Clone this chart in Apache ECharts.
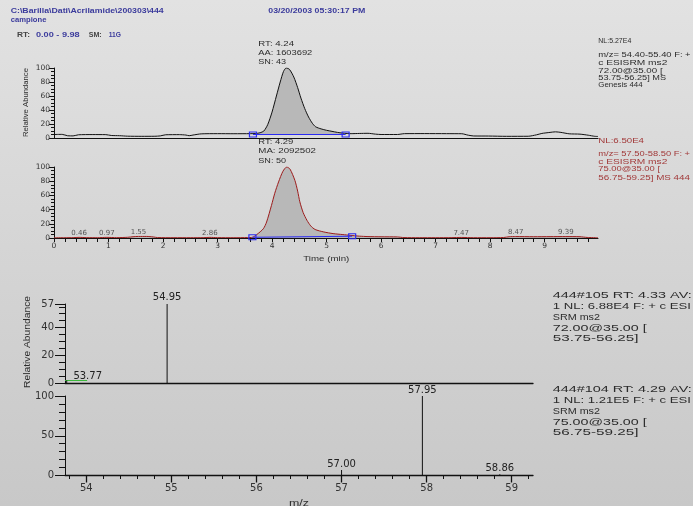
<!DOCTYPE html>
<html><head><meta charset="utf-8">
<script src="https://cdn.jsdelivr.net/npm/echarts@6/dist/echarts.min.js"></script>
<style>
html,body{margin:0;padding:0;}
body{background:linear-gradient(to bottom,#e2e2e2 0%,#d6d6d6 45%,#c8c8c8 100%);}
#c{width:693px;height:506px;}
</style>
</head><body><div id="c"></div>
<script>
// ---------- DATA ----------
// Chromatogram A (m/z 54.40-55.40), [time min, relative abundance]
const traceA = [[0.00,5.0],[0.15,5.2],[0.25,3.2],[0.35,3.0],[0.45,4.6],[0.70,4.9],[0.95,4.8],[1.05,3.6],[1.20,3.3],[1.35,2.6],[1.60,2.4],[1.85,2.5],[1.95,3.0],[2.05,4.6],[2.30,4.8],[2.42,4.2],[2.48,3.3],[2.55,4.2],[2.70,5.9],[3.00,6.2],[3.30,6.1],[3.60,6.2],[3.70,6.4],[3.78,7.5],[3.85,10],[3.92,19],[4.00,37],[4.08,60],[4.15,80],[4.21,95],[4.26,100],[4.32,98],[4.40,87],[4.47,72],[4.53,57],[4.60,42],[4.67,30],[4.74,21],[4.80,16],[4.90,13],[5.00,11],[5.10,9.5],[5.20,8],[5.33,6.7],[5.45,6.2],[5.60,6.5],[5.76,6.7],[5.90,5.5],[6.00,5.0],[6.30,5.0],[6.43,6.2],[6.80,6.3],[7.20,6.2],[7.48,6.1],[7.60,4.0],[7.70,2.9],[7.97,2.8],[8.30,2.4],[8.70,2.5],[8.85,4.5],[8.95,6.5],[9.10,8.0],[9.20,8.8],[9.30,8.0],[9.45,6.0],[9.65,5.5],[9.80,4.0],[9.92,2.4],[9.98,2.2]];
const baselineA = [[3.65,5.0],[5.35,5.0]];
// Chromatogram B (m/z 57.50-58.50)
const traceB = [[0.00,0.3],[0.20,0.4],[0.35,0.5],[0.46,0.9],[0.60,0.5],[0.80,0.4],[0.97,0.9],[1.15,0.5],[1.35,1.0],[1.45,1.8],[1.55,2.2],[1.70,2.2],[1.82,1.5],[1.90,0.6],[2.20,0.4],[2.50,0.4],[2.75,0.5],[2.86,0.9],[3.00,0.5],[3.30,0.4],[3.55,0.6],[3.64,1.0],[3.72,4.8],[3.84,13],[3.90,22.5],[3.99,46],[4.05,63],[4.12,79],[4.20,94],[4.27,100],[4.33,97],[4.42,81],[4.47,66],[4.51,51],[4.57,36],[4.64,25],[4.71,17],[4.79,12],[4.95,8.5],[5.12,6.2],[5.30,4.8],[5.43,3.8],[5.60,2.6],[5.76,2.0],[6.00,1.7],[6.30,1.5],[6.42,0.6],[6.70,0.4],[7.00,0.4],[7.30,0.5],[7.47,0.8],[7.70,0.4],[8.00,0.4],[8.25,0.7],[8.35,1.8],[8.47,2.0],[8.80,1.8],[9.10,1.9],[9.39,2.0],[9.65,1.8],[9.78,0.8],[9.98,0.3]];
const baselineB = [[3.64,1.0],[5.47,2.5]];
const smallPeaksB = [0.46,0.97,1.55,2.86,7.47,8.47,9.39];
// Spectra [m/z, relative abundance]
const spec105 = [[53.77,1.8],[54.95,57]];
const green105 = [[53.75,1.8],[54.01,1.8]];
const spec104 = [[57.00,7],[57.95,100],[58.86,1.5]];
// Ticks
const timeMajorTicks = [0,1,2,3,4,5,6,7,8,9];
const timeMinorTicks = []; for (let i=0;i<=49;i++) timeMinorTicks.push(+(i*0.2).toFixed(1));
const mzMajorTicks = [54,55,56,57,58,59];
const mzMinorTicks = []; for (let i=0;i<=27;i++) mzMinorTicks.push(+(53.8+i*0.2).toFixed(1));

// ---------- HELPERS ----------
const AXF = '"DejaVu Sans", sans-serif';
const TXF = '"Liberation Sans", Arial, sans-serif';
const DARK = '#2c2c2c', BLUE = '#3b3b9c', RED = '#a23a3a', LINEBLUE = '#2a2af2', FILL = '#b8b8b8';
const mctx = document.createElement('canvas').getContext('2d');
function T(text, x, y, w, size, color, bold, rot) {
  const font = (bold ? 'bold ' : '') + size + 'px ' + TXF;
  mctx.font = font;
  const mw = mctx.measureText(text).width;
  return {type:'text', x:x, y:y, rotation: rot || 0, scaleX: w / mw, silent:true, z:10,
    style:{text:text, font:font, fill:color, textAlign: rot ? 'center' : 'left', textVerticalAlign:'middle', verticalAlign:'middle'}};
}
function interp(tr, t) {
  for (let i=1;i<tr.length;i++) if (tr[i][0] >= t) {
    const a=tr[i-1], b=tr[i]; return a[1] + (b[1]-a[1])*(t-a[0])/(b[0]-a[0]);
  }
  return tr[tr.length-1][1];
}
const G = [
  T('C:\\Barilla\\Dati\\Acrilamide\\200303\\444', 10.7, 11.3, 153, 6.5, BLUE, true),
  T('campione', 10.7, 20, 35.7, 6.5, BLUE, true),
  T('03/20/2003 05:30:17 PM', 268.3, 11.3, 97, 6.5, BLUE, true),
  T('RT:', 17, 35, 13, 7, '#444', true),
  T('0.00 - 9.98', 36, 35, 43.7, 7, BLUE, true),
  T('SM:', 88.7, 35, 13, 7, '#444', true),
  T('11G', 108.7, 35, 12.3, 7, BLUE, true),
  T('RT: 4.24', 258.3, 44.5, 35.7, 6.5, DARK),
  T('AA: 1603692', 258.3, 53.7, 54, 6.5, DARK),
  T('SN: 43', 258.3, 62.3, 27.7, 6.5, DARK),
  T('RT: 4.29', 258.3, 142.3, 35, 6.5, DARK),
  T('MA: 2092502', 258.3, 151.7, 57.7, 6.5, DARK),
  T('SN: 50', 258.3, 161, 27.7, 6.5, DARK),
  T('NL:5.27E4', 598.3, 41.7, 33, 6.5, DARK),
  T('m/z= 54.40-55.40 F: +', 598.3, 55.7, 92.3, 6.5, DARK),
  T('c ESISRM ms2', 598.3, 63.7, 69, 6.5, DARK),
  T('72.00@35.00 [', 598.3, 71, 64.3, 6.5, DARK),
  T('53.75-56.25] MS', 598.3, 78.3, 67.7, 6.5, DARK),
  T('Genesis 444', 598.3, 85.3, 44.3, 6.5, DARK),
  T('NL:6.50E4', 598.3, 141.7, 45.7, 6.5, RED),
  T('m/z= 57.50-58.50 F: +', 598.3, 154, 91.7, 6.5, RED),
  T('c ESISRM ms2', 598.3, 162, 69, 6.5, RED),
  T('75.00@35.00 [', 598.3, 169.7, 61.7, 6.5, RED),
  T('56.75-59.25] MS 444', 598.3, 178, 91.7, 6.5, RED),
  T('444#105 RT: 4.33 AV:', 552.7, 296, 139, 9, DARK),
  T('1 NL: 6.88E4 F: + c ESI', 552.7, 306.7, 138.3, 9, DARK),
  T('SRM ms2', 552.7, 317.7, 47.3, 9, DARK),
  T('72.00@35.00 [', 552.7, 328.3, 94, 9, DARK),
  T('53.75-56.25]', 552.7, 338.7, 85.7, 9, DARK),
  T('444#104 RT: 4.29 AV:', 552.7, 390, 139, 9, DARK),
  T('1 NL: 1.21E5 F: + c ESI', 552.7, 400.7, 138.3, 9, DARK),
  T('SRM ms2', 552.7, 411.7, 47.3, 9, DARK),
  T('75.00@35.00 [', 552.7, 422.3, 94, 9, DARK),
  T('56.75-59.25]', 552.7, 433, 85.7, 9, DARK),
  T('Relative Abundance', 26.3, 102.5, 69, 6.5, DARK, false, Math.PI/2),
  T('Relative Abundance', 27.5, 342, 92, 9, DARK, false, Math.PI/2),
  T('Time (min)', 303.3, 259, 46, 6.5, DARK),
  T('m/z', 289, 504, 20, 9, DARK)
];

// ---------- AXES ----------
const LC = '#111';
function yAx(gi, max, interval, split, small) {
  return {type:'value', gridIndex:gi, min:0, max:max, interval:interval,
    axisLine:{show:true, lineStyle:{color:LC, width:1}},
    axisTick:{show:true, length: small ? 5 : 10, lineStyle:{color:LC}},
    minorTick:{show:true, splitNumber:split, length: small ? 3 : 6, lineStyle:{color:LC}},
    axisLabel:{fontSize: small ? 7.5 : 10, fontFamily:AXF, color:'#333', margin: small ? 4 : 11},
    splitLine:{show:false}, minorSplitLine:{show:false}};
}
const noAx = {show:false};
const xAxes = [
  {type:'value', gridIndex:0, min:0, max:9.98, position:'bottom', axisLine:{onZero:false, lineStyle:{color:LC,width:1.2}}, axisTick:noAx, axisLabel:noAx, splitLine:noAx},
  {type:'value', gridIndex:1, min:0, max:9.98, position:'bottom', axisLine:{onZero:false, lineStyle:{color:LC,width:1}},
    axisTick:{show:true, length:4, customValues:timeMinorTicks, lineStyle:{color:LC}},
    axisLabel:{show:true, customValues:timeMajorTicks, fontSize:7.5, fontFamily:AXF, color:'#333', margin:4},
    splitLine:noAx},
  {type:'value', gridIndex:2, min:53.75, max:59.25, position:'bottom', axisLine:{onZero:false, lineStyle:{color:LC,width:1.3}}, axisTick:noAx, axisLabel:noAx, splitLine:noAx},
  {type:'value', gridIndex:3, min:53.75, max:59.25, position:'bottom', axisLine:{onZero:false, lineStyle:{color:LC,width:1.3}},
    axisTick:{show:true, length:7, customValues:mzMajorTicks, lineStyle:{color:LC, width:1.3}},
    axisLabel:{show:true, customValues:mzMajorTicks, fontSize:10, fontFamily:AXF, color:'#333', margin:8},
    splitLine:noAx},
  {type:'value', gridIndex:3, min:53.75, max:59.25, position:'bottom', axisLine:{show:false, onZero:false},
    axisTick:{show:true, length:3.5, customValues:mzMinorTicks, lineStyle:{color:LC}},
    axisLabel:noAx, splitLine:noAx}
];
const yAxes = [yAx(0,100,20,4,true), yAx(1,100,20,4,true), yAx(2,57,20,4,false), yAx(3,100,50,5,false)];

// ---------- SERIES ----------
const peakA = traceA.filter(p => p[0] >= baselineA[0][0] && p[0] <= baselineA[1][0]);
const labelItem = {fontSize:7, fontFamily:AXF, color:'#333'};
const baseSeries = (data, xi) => ({type:'line', xAxisIndex:xi, yAxisIndex:xi, data:data, z:5,
  lineStyle:{color:LINEBLUE, width:1}, symbol:'rect', symbolSize:[7,5], showSymbol:true,
  itemStyle:{color:'rgba(0,0,0,0)', borderColor:LINEBLUE, borderWidth:1}, silent:true});
const series = [
  {type:'line', xAxisIndex:0, yAxisIndex:0, data:peakA, showSymbol:false, smooth:0.25, z:2,
    lineStyle:{width:0, opacity:0}, areaStyle:{color:FILL, opacity:1, origin:baselineA[0][1]}},
  {type:'line', xAxisIndex:0, yAxisIndex:0, data:traceA, showSymbol:false, smooth:0.25, z:3,
    lineStyle:{color:'#111', width:1}},
  baseSeries(baselineA, 0),
  {type:'line', xAxisIndex:1, yAxisIndex:1, data:traceB, showSymbol:false, smooth:0.25, z:3,
    lineStyle:{color:'#9b1b1b', width:1}, areaStyle:{color:FILL, opacity:1}},
  baseSeries(baselineB, 1),
  {type:'scatter', xAxisIndex:1, yAxisIndex:1, symbolSize:0, z:6,
    data: smallPeaksB.map(t => [t, interp(traceB, t)]),
    label:Object.assign({show:true, position:'top', distance:1, formatter:p => p.value[0].toFixed(2)}, labelItem)},
  {type:'bar', xAxisIndex:2, yAxisIndex:2, barWidth:1, z:4, itemStyle:{color:'#111'},
    data: spec105.map((p,i) => i === 0 ? {value:p, label:{offset:[21,3]}} : {value:p}),
    label:{show:true, position:'top', distance:2, fontSize:10, fontFamily:AXF, color:'#222', formatter:p => p.value[0].toFixed(2)}},
  {type:'line', xAxisIndex:2, yAxisIndex:2, data:green105, showSymbol:false, z:3, lineStyle:{color:'#3cb83c', width:1.2}},
  {type:'bar', xAxisIndex:3, yAxisIndex:3, barWidth:1, z:4, itemStyle:{color:'#111'},
    data: spec104.map(p => ({value:p})),
    label:{show:true, position:'top', distance:1, fontSize:10, fontFamily:AXF, color:'#222', formatter:p => p.value[0].toFixed(2)}}
];

const option = {
  animation:false,
  backgroundColor:'transparent',
  grid:[
    {left:54, top:68, width:544, height:70},
    {left:54, top:167, width:544, height:71},
    {left:65, top:304, width:468, height:79},
    {left:65, top:396, width:468, height:79.5}
  ],
  xAxis:xAxes, yAxis:yAxes, series:series,
  graphic:{elements:G}
};
const chart = echarts.init(document.getElementById('c'), null, {renderer:'canvas', width:693, height:506});
chart.setOption(option);
</script>
</body></html>
